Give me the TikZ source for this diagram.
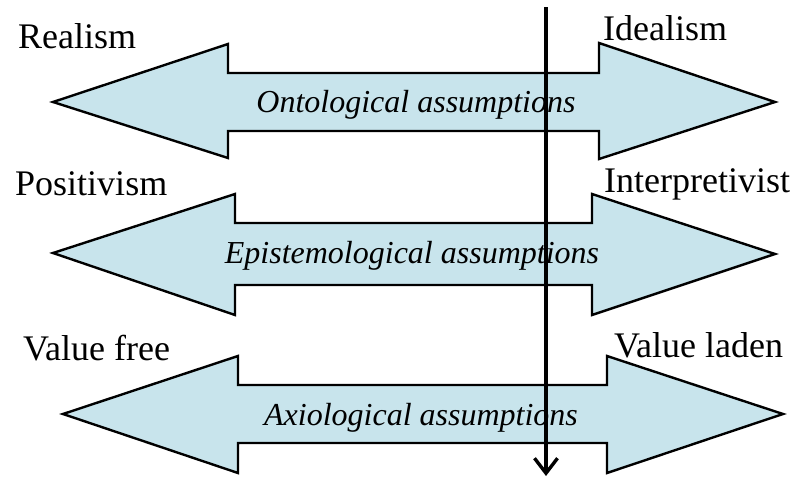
\documentclass[tikz,border=0pt]{standalone}
\usepackage{fontspec}
\setmainfont{Liberation Serif}
\usetikzlibrary{arrows.meta}
\definecolor{arrowfill}{RGB}{200,228,236}
\tikzset{
  dblarrow/.style={draw=black, line width=2.4pt, fill=arrowfill, line join=miter},
  poletext/.style={anchor=base west, inner sep=0pt, font=\fontsize{36}{40}\selectfont},
  axistext/.style={anchor=base, inner sep=0pt, font=\fontsize{32}{36}\selectfont\itshape},
  positionline/.style={line width=3.4pt, -{Straight Barb[length=15pt,width=23pt,line width=3.4pt]}}
}
\begin{document}
\begin{tikzpicture}[x=1pt,y=-1pt]
\useasboundingbox (0,0) rectangle (798,479);
\fill[white] (0,0) rectangle (798,479);

% ontological
\draw[dblarrow] (53,102) -- (228,44) -- (228,73) -- (599,73) -- (599,43) -- (775,102)
  -- (599,159) -- (599,131) -- (228,131) -- (228,158) -- cycle;
% epistemological
\draw[dblarrow] (53,253) -- (235,194) -- (235,223) -- (592,223) -- (592,194) -- (775,254)
  -- (592,315) -- (592,285) -- (235,285) -- (235,315) -- cycle;
% axiological
\draw[dblarrow] (63,414) -- (238,356) -- (238,385) -- (607,385) -- (607,356) -- (783,414)
  -- (607,473) -- (607,443) -- (238,443) -- (238,473) -- cycle;

\node[axistext] (onto) at (416,112) {Ontological assumptions};
\node[axistext] (epis) at (412,263) {Epistemological assumptions};
\node[axistext] (axio) at (421,425) {Axiological assumptions};

\node[poletext] (realism) at (18,48) {Realism};
\node[poletext] (idealism) at (603,40) {Idealism};
\node[poletext] (positivism) at (15,195) {Positivism};
\node[poletext] (interp) at (604,192) {Interpretivist};
\node[poletext] (vfree) at (23,360) {Value free};
\node[poletext] (vladen) at (614,357) {Value laden};

% vertical position line
\coordinate (top) at (546,7);
\coordinate (bottom) at (546,476);
\draw[positionline] (top) -- (bottom);
\end{tikzpicture}
\end{document}
